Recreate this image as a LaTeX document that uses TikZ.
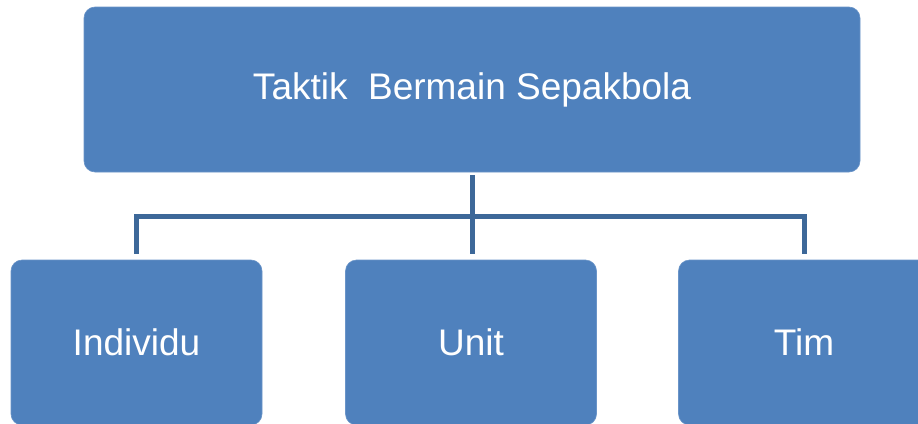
\documentclass[tikz,border=0pt]{standalone}
\usepackage{fontspec}
\setmainfont{Liberation Sans}
\definecolor{boxblue}{HTML}{4F81BD}
\definecolor{boxedge}{HTML}{6A94C8}
\definecolor{linkblue}{HTML}{3D6899}
\begin{document}
\begin{tikzpicture}[x=1pt,y=-1pt,
  box/.style={rectangle, rounded corners=11pt, fill=boxblue, draw=boxedge,
    line width=0.6pt, text=white, font=\fontsize{37}{44}\selectfont,
    inner sep=0pt},
  topbox/.style={box, minimum width=776pt, minimum height=165pt},
  subbox/.style={box, minimum width=251pt, minimum height=165pt},
  link/.style={draw=linkblue, line width=5pt, line join=miter}]
  \useasboundingbox (0,0) rectangle (918,423);
  \begin{scope}
    \clip (0,0) rectangle (918,423);
    % parent and children
    \node[topbox] (top) at (472,89.5) {Taktik\ \ Bermain Sepakbola};
    \node[subbox] (ind) at (136.5,342.5) {Individu};
    \node[subbox] (uni) at (471,342.5) {Unit};
    \node[subbox] (tim) at (804,342.5) {Tim};
    % bus line joining the children
    \coordinate (bus) at (472,216.5);
    \draw[link, shorten <=6pt, shorten >=6pt] (ind.north) |- (bus) -| (tim.north);
    \draw[link, shorten <=3pt, shorten >=6pt] (top.south) -- (top.south |- uni.north);
  \end{scope}
\end{tikzpicture}
\end{document}
